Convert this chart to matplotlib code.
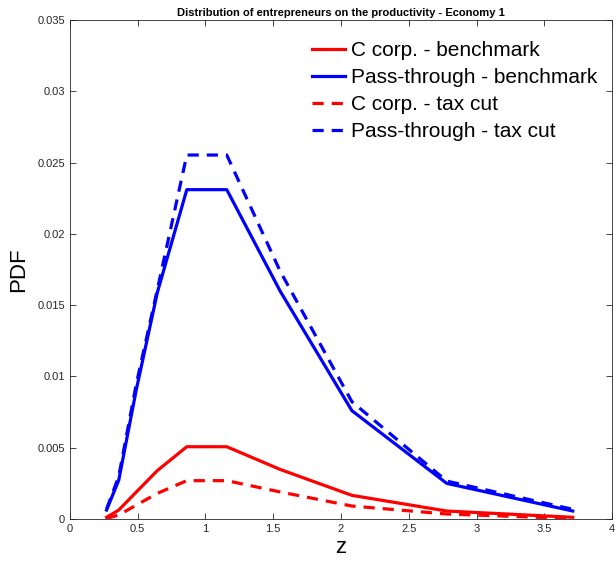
import matplotlib.pyplot as plt
import numpy as np

plt.rcParams['font.family'] = ['Liberation Sans', 'DejaVu Sans']

# productivity grid and densities
z = [0.27, 0.36, 0.49, 0.645, 0.862, 1.157, 1.55, 2.08, 2.78, 3.71]
ccorp_bench = [0.00012, 0.00063, 0.0019, 0.0034, 0.00507, 0.00507, 0.00348, 0.00166, 0.00056, 0.00012]
pass_bench = [0.00063, 0.00273, 0.0091, 0.0159, 0.0231, 0.0231, 0.0160, 0.0076, 0.0025, 0.00056]
ccorp_cut = [0.00004, 0.00028, 0.00098, 0.0018, 0.00269, 0.00269, 0.0019, 0.00091, 0.00035, 0.00003]
pass_cut = [0.0007, 0.0030, 0.0095, 0.0161, 0.02553, 0.02553, 0.0174, 0.00823, 0.00266, 0.00068]

labels = ["C corp. - benchmark", "Pass-through - benchmark",
          "C corp. - tax cut", "Pass-through - tax cut"]

fig = plt.figure(figsize=(6.16, 5.65), dpi=100)
ax = fig.add_axes([0.1136, 0.0814, 0.88, 0.8832])

lw = 2.3
ax.plot(z, ccorp_bench, color='red', lw=lw, label=labels[0])
ax.plot(z, pass_bench, color='blue', lw=lw, label=labels[1])
ax.plot(z, ccorp_cut, color='red', lw=lw, ls=(0, (3.5, 2.5)), label=labels[2])
ax.plot(z, pass_cut, color='blue', lw=lw, ls=(0, (3.5, 2.5)), label=labels[3])

ax.set_xlim(0, 4)
ax.set_ylim(0, 0.035)
ax.set_xticks(np.arange(0, 4.01, 0.5))
ax.set_xticklabels(['0', '0.5', '1', '1.5', '2', '2.5', '3', '3.5', '4'])
ax.set_yticks(np.arange(0, 0.0351, 0.005))
ax.set_yticklabels(['0', '0.005', '0.01', '0.015', '0.02', '0.025', '0.03', '0.035'])
ax.tick_params(direction='in', top=True, right=True, labelsize=8,
               colors='#262626', length=4, width=0.6)
for s in ax.spines.values():
    s.set_color('#262626')
    s.set_linewidth(0.6)

ax.set_xlabel("z", fontsize=16, labelpad=2)
ax.set_ylabel("PDF", fontsize=16, labelpad=6)
ax.set_title("Distribution of entrepreneurs on the productivity - Economy 1",
             fontsize=8, fontweight='bold', pad=3)

leg = ax.legend(loc='upper left', bbox_to_anchor=(0.4465, 0.957), fontsize=15,
                frameon=False, handlelength=1.6, handletextpad=0.25,
                labelspacing=0.38, borderaxespad=0, borderpad=0)

plt.savefig("out.png", dpi=100)
